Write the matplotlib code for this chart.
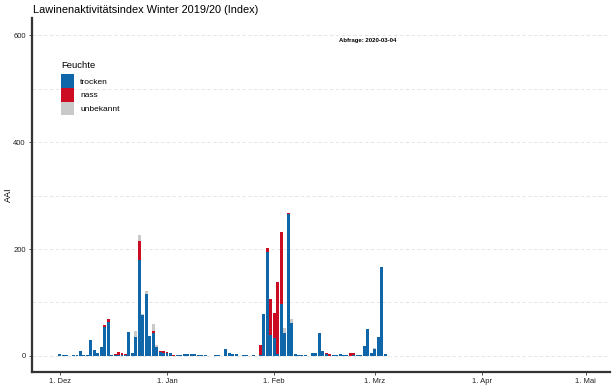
import numpy as np
import pandas as pd
import matplotlib
matplotlib.use('Agg')
import matplotlib.pyplot as plt
import matplotlib.dates as mdates
from matplotlib.patches import Patch

plt.rcParams['font.family'] = ['Liberation Sans', 'DejaVu Sans']

# daily AAI values, 1 Dec 2019 - 4 Mar 2020
start = '2019-12-01'
trocken = [3, 1, 1, 0, 1, 1, 9, 1, 1, 30, 12, 5, 17, 54, 63, 2, 1, 1, 1, 1,
           44, 5, 36, 179, 76, 116, 38, 42, 17, 8, 6,
           6, 5, 0, 1, 1, 4, 3, 3, 3, 2, 2, 1, 0, 0, 2, 1, 0, 13, 6, 4,
           4, 0, 1, 1, 0, 1, 0, 1, 78, 195, 40,
           34, 3, 97, 42, 265, 61, 3, 1, 1, 1, 0, 6, 6, 43, 10, 3, 0, 2, 1, 4,
           1, 1, 0, 1, 1, 2, 19, 50, 5,
           13, 35, 167, 3]
nass = [0, 0, 0, 0, 0, 0, 0, 0, 0, 0, 0, 0, 0, 3, 7, 0, 3, 7, 5, 3,
        0, 0, 0, 36, 0, 0, 0, 5, 0, 2, 4,
        2, 1, 2, 0, 0, 0, 0, 0, 0, 0, 0, 0, 0, 0, 0, 0, 0, 0, 0, 0,
        0, 0, 0, 0, 0, 0, 0, 20, 0, 7, 67,
        47, 135, 134, 0, 3, 0, 0, 0, 0, 0, 0, 0, 0, 0, 0, 2, 4, 0, 0, 0,
        0, 0, 5, 4, 0, 0, 0, 0, 0,
        0, 0, 0, 0]
unbekannt = [0, 0, 0, 0, 0, 0, 0, 0, 0, 0, 0, 0, 0, 0, 0, 0, 0, 0, 0, 0,
             0, 0, 10, 12, 2, 5, 0, 13, 3, 0, 0,
             0, 0, 0, 0, 0, 0, 0, 0, 0, 0, 0, 0, 0, 0, 0, 0, 0, 0, 0, 0,
             0, 0, 0, 0, 0, 0, 0, 0, 0, 0, 0,
             0, 0, 0, 10, 0, 9, 0, 0, 0, 0, 0, 0, 0, 0, 0, 0, 0, 0, 0, 0,
             0, 0, 0, 0, 0, 0, 0, 0, 0,
             2, 0, 0, 0]
tick_dates = ['2019-12-01', '2020-01-01', '2020-02-01', '2020-03-01', '2020-04-01', '2020-05-01']
tick_labels = ['1. Dez', '1. Jan', '1. Feb', '1. Mrz', '1. Apr', '1. Mai']

dates = pd.date_range(start, periods=len(trocken), freq='D')
x = mdates.date2num(dates)
t = np.array(trocken, dtype=float)
n = np.array(nass, dtype=float)
u = np.array(unbekannt, dtype=float)

c_t = '#0f67aa'
c_n = '#cc0c22'
c_u = '#c9c9c9'

fig = plt.figure(figsize=(6.16, 3.88), dpi=100)
ax = fig.add_axes([32/616, 16/388, 578/616, 354/388])

w = 0.85
ax.bar(x, t, width=w, color=c_t, linewidth=0, zorder=3)
ax.bar(x, n, width=w, bottom=t, color=c_n, linewidth=0, zorder=3)
ax.bar(x, u, width=w, bottom=t + n, color=c_u, linewidth=0, zorder=3)

ax.set_ylim(-30, 632)
ax.set_xlim(mdates.date2num(pd.Timestamp('2019-11-23')), mdates.date2num(pd.Timestamp('2020-05-08')))

ax.set_yticks([0, 200, 400, 600])
ax.set_yticks([100, 300, 500], minor=True)
ax.set_xticks(mdates.date2num(pd.to_datetime(tick_dates)))
ax.set_xticklabels(tick_labels)
ax.tick_params(axis='both', which='major', labelsize=5.5, length=2.5, width=0.6,
               colors='#333333', labelcolor='#222222', pad=2)
ax.tick_params(axis='y', which='minor', length=0)

ax.grid(True, axis='y', which='both', color='#e0e0e0', linestyle=(0, (4, 3)), linewidth=0.6, zorder=0)
for s in ['top', 'right']:
    ax.spines[s].set_visible(False)
for s in ['left', 'bottom']:
    ax.spines[s].set_color('#333333')
    ax.spines[s].set_linewidth(1.6)

ax.set_ylabel('AAI', fontsize=6.5)
ax.yaxis.set_label_coords(-19/578, 0.5)
fig.text(33/616, 1 - 10/388, 'Lawinenaktivitätsindex Winter 2019/20 (Index)',
         fontsize=7.9, va='center', ha='left')

ax.text(mdates.date2num(pd.Timestamp('2020-02-28')), 590, 'Abfrage: 2020-03-04',
        fontsize=4.3, fontweight='bold', ha='center', va='center')

handles = [Patch(facecolor=c_t), Patch(facecolor=c_n), Patch(facecolor=c_u)]
leg = ax.legend(handles, ['trocken', 'nass', 'unbekannt'], title='Feuchte',
                loc='upper left', bbox_to_anchor=(61/616, 1 - 61/388),
                bbox_transform=fig.transFigure, frameon=False, fontsize=6,
                title_fontsize=6.8, handlelength=1.6, handleheight=2.15,
                labelspacing=0.0, handletextpad=0.7, borderaxespad=0,
                borderpad=0)
leg._legend_box.align = 'left'
leg._legend_box.sep = 3

fig.savefig('out.png', dpi=100)
